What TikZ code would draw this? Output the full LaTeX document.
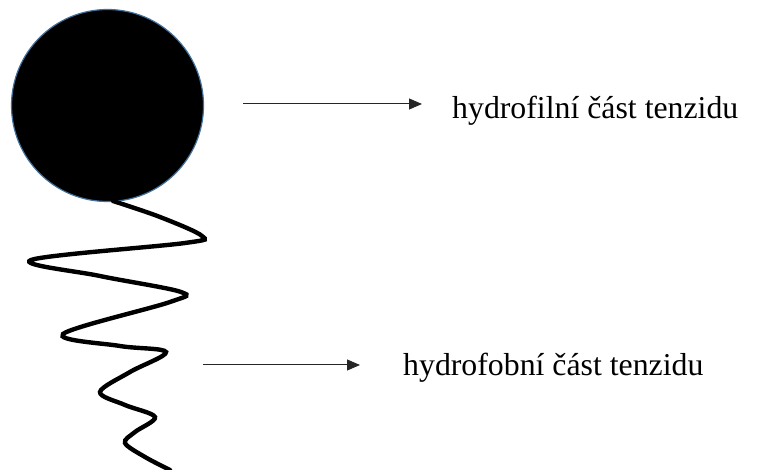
\documentclass[tikz,border=0pt]{standalone}
\usepackage{fontspec}
\setmainfont{Liberation Serif}
\usetikzlibrary{arrows.meta}
\definecolor{outl}{RGB}{65,113,156}
\begin{document}
\begin{tikzpicture}[x=1pt,y=-1pt,
  label text/.style={anchor=base west,inner sep=0pt,font=\fontsize{31.8}{36}\selectfont},
  pointer/.style={line width=1pt,draw=black!85,-{Triangle[length=13pt,width=11pt]}},
  tail/.style={line width=4.4pt,line cap=round}]
\useasboundingbox (0,0) rectangle (780,470);
\node[circle,fill=black,draw=outl,line width=1.2pt,minimum size=192pt,inner sep=0pt] (head) at (107.5,105.5) {};
\draw[tail] plot[smooth,tension=0.55] coordinates {(113,201) (160,217) (202,236) (185,243) (31,260) (100,276) (181,292) (170,302) (63,334) (120,346) (166,352) (130,372) (100,392) (125,405) (155,417) (135,432) (125,443) (145,457) (170,470)};
\node[label text] (t1) at (452,118.5) {hydrofilní část tenzidu};
\node[label text] (t2) at (403,376) {hydrofobní část tenzidu};
\coordinate (a1) at (243,104);
\coordinate (a2) at (203,365);
\draw[pointer] (a1) -- ([xshift=-30pt]t1.west |- a1);
\draw[pointer] (a2) -- ([xshift=-43pt]t2.west |- a2);
\end{tikzpicture}
\end{document}
